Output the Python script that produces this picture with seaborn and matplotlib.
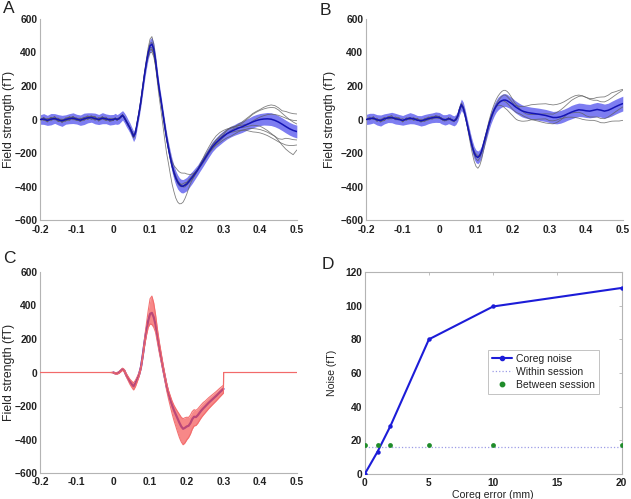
import numpy as np
import pandas as pd
import matplotlib
matplotlib.use("Agg")
import matplotlib.pyplot as plt
import seaborn as sns
from matplotlib.lines import Line2D

sns.set_theme(style="white")
plt.rcParams['font.family'] = ['Liberation Sans', 'DejaVu Sans']

# ---------------- time grid (s) ----------------
t_pre = [-0.20, -0.19, -0.18, -0.17, -0.16, -0.15, -0.14, -0.13, -0.12, -0.11,
         -0.10, -0.09, -0.08, -0.07, -0.06, -0.05, -0.04, -0.03, -0.02, -0.01]
t_mid = [round(0.005 * i, 3) for i in range(51)]
t_post = [0.26, 0.27, 0.28, 0.29, 0.30, 0.31, 0.32, 0.33, 0.34, 0.35, 0.36, 0.37, 0.38,
          0.39, 0.40, 0.41, 0.42, 0.43, 0.44, 0.45, 0.46, 0.47, 0.48, 0.49, 0.50]
time = t_pre + t_mid + t_post

# ---------------- Panel A ----------------
a_mean = ([0, 3, -5, 2, 6, -2, -8, 0, 5, 8, 2, -4, 4, 10, 12, 6, 0, 8, 4, -2] +
          [0, 5, 0, 5, 15, 25, 10, -10, -30, -50,
           -75, -100, -80, -20, 40, 110, 190, 270, 340, 400,
           440, 450, 420, 350, 260, 180, 110, 35, -40, -110,
           -170, -225, -275, -315, -348, -372, -388, -397, -398, -392,
           -385, -372, -358, -345, -330, -315, -300, -282, -265, -248, -230] +
          [-195, -162, -138, -118, -100, -84, -72, -62, -52, -44, -34, -24, -14, -6, 0,
           3, 4, 2, -5, -15, -28, -42, -55, -65, -72])
a_hw = ([28, 32, 30, 34, 29, 31, 33, 28, 30, 32, 29, 31, 34, 30, 28, 32, 30, 33, 29, 31] +
        [30, 32, 29, 31, 30, 28, 30, 32, 30, 30,
         30, 32, 30, 28, 28, 30, 32, 34, 36, 38,
         40, 40, 38, 35, 32, 30, 30, 30, 32, 34,
         36, 38, 40, 42, 42, 42, 40, 40, 40, 40,
         40, 40, 38, 36, 34, 32, 30, 30, 30, 30, 30] +
        [30, 30, 30, 32, 32, 32, 32, 32, 34, 34, 34, 34, 36, 36, 36, 36, 38, 38, 38, 38,
         38, 38, 38, 38, 38])
a_trial_offsets = {
    "a1": [8, -6, 12, -4, 10, -10, 6, -8, 12, 0, -6, 10, -4, 8, -12, 6, -2, 10, -8, 4] +
          [5, -5, 8, -3, 6, -4, 5, -6, 3, -5, -8, -10, -6, 4, 8, 10, 12, 15, 20, 30,
           40, 45, 30, 20, 10, 5, 0, -10, -15, -10, -5, 0, 5, 10, 15, 10, 5, 0, -5, -10,
           -5, 0, 5, 10, 10, 8, 5, 5, 8, 10, 12] +
          [10, 12, 15, 18, 20, 22, 20, 18, 22, 28, 35, 42, 50, 55, 60, 70, 78, 85, 88, 85,
           80, 90, 95, 100, 105],
    "a2": [-10, 6, -4, 12, -8, 4, 10, -6, -12, 6, 8, -4, -10, 4, 10, -8, 6, -4, -6, 8] +
          [-4, 6, -5, 4, -6, 5, -3, 6, -4, 3, 5, 8, 4, -6, -10, -15, -12, -8, -5, 0,
           -10, -20, -25, -30, -40, -50, -60, -70, -80, -90, -90, -100, -110, -115, -120, -120,
           -115, -105, -95, -80, -60, -40, -25, -15, -10, -5, 0, 5, 5, 5, 5] +
          [0, -5, -8, -10, -5, 0, 5, 10, 5, -5, -10, -15, -20, -30, -40, -55, -70, -85, -95,
           -110, -125, -135, -140, -145, -110],
    "a3": [4, -8, 6, 10, -4, -10, 8, 4, -6, 10, -2, -8, 6, 12, -4, -10, 4, 8, -6, 2] +
          [6, -4, 3, -5, 4, -6, 8, -3, 5, -4, 6, 4, -5, -8, -4, 6, 10, 8, 5, -5,
           -20, -30, -25, -15, -10, -5, 0, 5, 10, 5, 0, 10, 25, 40, 60, 70, 75, 78, 78, 72,
           60, 45, 30, 20, 10, 5, 0, -5, -5, 0, 0] +
          [5, 10, 15, 10, 5, 0, -5, -10, -15, -20, -30, -45, -60, -70, -80, -90, -100, -110,
           -115, -118, -115, -110, -100, -90, -80],
    "a4": [-6, 10, -8, 4, 12, -6, -4, 10, 6, -10, 4, 12, -6, -2, 8, 10, -8, -4, 6, -10] +
          [-5, 4, -6, 3, -4, 6, -5, 4, -3, 5, -4, -6, 5, 8, 6, -4, -8, -5, -10, -15,
           -25, -35, -30, -20, -15, -10, -5, 0, 5, 10, 15, 10, 5, 0, -5, -10, -8, -5, 0, 5,
           10, 12, 10, 8, 5, 5, 5, 10, 15, 20, 25] +
          [30, 35, 40, 40, 35, 28, 22, 18, 15, 20, 28, 36, 45, 50, 55, 60, 65, 70, 75, 72,
           65, 60, 55, 50, 45],
    "a5": [10, -4, -10, 6, -6, 8, -12, 4, 10, -6, -8, 6, 10, -10, 4, -6, 12, -4, -10, 6] +
          [-6, 5, -4, 6, -5, 3, -6, 5, -5, 4, 6, 10, 6, -4, -8, -10, -5, 0, 5, 10,
           15, 10, 5, 0, -5, -10, -10, -5, 0, -5, -10, -15, -10, -5, 0, 5, 10, 8, 5, 0,
           -5, -8, -10, -12, -10, -8, -5, -5, -8, -10, -10] +
          [-5, -10, -15, -20, -22, -25, -28, -25, -22, -20, -25, -30, -40, -50, -60, -70,
           -80, -90, -95, -100, -90, -70, -60, -55, -50],
    "a6": [-2, 8, 4, -10, 2, 10, -6, -10, 4, 10, -4, -6, 8, -8, 2, 12, -10, 4, 10, -6] +
          [3, -6, 5, -4, 5, -3, 4, -5, 6, -3, -5, -8, -5, 5, 10, 12, 10, 5, -10, -25,
           -40, -50, -45, -35, -20, -10, 0, 10, 15, 10, 5, 0, -5, -10, -5, 0, 5, 10, 15, 15,
           10, 5, 0, -5, -8, -5, 0, 5, 5, 0, -5] +
          [-10, -15, -10, 0, 10, 20, 25, 20, 15, 10, 5, 0, 5, 10, 15, 20, 25, 30, 35, 40,
           45, 50, 55, 60, 65],
}

# ---------------- Panel B ----------------
b_mean = ([0, 5, 8, -2, -6, 4, 10, 12, 5, 0, -5, 2, 8, 4, -4, -8, -2, 5, 10, 14] +
          [12, 5, 0, -2, 0, 5, 2, -4, -8, 0,
           20, 60, 88, 70, 30, -20, -70, -120, -165, -200,
           -220, -226, -215, -190, -150, -110, -70, -30, 5, 35,
           60, 80, 95, 105, 112, 116, 116, 112, 105, 98,
           90, 80, 72, 65, 58, 52, 48, 45, 42, 40, 38] +
          [35, 32, 28, 24, 18, 12, 12, 16, 24, 34, 44, 52, 58, 56, 52, 50, 55, 60, 56, 50,
           55, 65, 76, 86, 95])
b_hw = ([30, 32, 29, 31, 33, 30, 28, 31, 32, 30, 29, 31, 33, 30, 28, 31, 32, 30, 29, 31] +
        [30, 30, 29, 31, 30, 30, 31, 30, 30, 30,
         30, 32, 34, 34, 32, 32, 34, 36, 38, 38,
         38, 38, 36, 34, 34, 34, 34, 34, 34, 36,
         36, 36, 38, 38, 38, 38, 38, 38, 36, 36,
         36, 36, 36, 36, 36, 36, 36, 36, 36, 36, 36] +
        [36, 36, 36, 36, 36, 36, 38, 38, 38, 38, 40, 40, 40, 40, 40, 40, 42, 42, 42, 42,
         42, 44, 44, 44, 44])
b_trial_offsets = {
    "b1": [6, -8, 10, -4, 8, -10, 4, 12, -6, -2, 10, -8, 4, -6, 12, -4, -10, 6, 8, -6] +
          [-4, 6, -8, 5, -3, 8, -5, 4, -6, 5, 4, 6, 10, 8, 0, -10, -20, -30, -40, -50,
           -60, -65, -60, -50, -40, -30, -20, -10, -5, 0, 5, 10, 15, 20, 25, 30, 30, 25, 20, 15,
           10, 5, 10, 15, 20, 25, 30, 35, 40, 45, 50] +
          [55, 60, 65, 70, 72, 75, 78, 80, 82, 85, 88, 90, 88, 85, 80, 75, 70, 72, 78, 85,
           90, 95, 90, 88, 85],
    "b2": [-8, 4, -6, 10, -10, 6, -4, -8, 10, 4, -6, 8, -10, 4, 6, -8, 10, -4, -6, 10] +
          [5, -4, 6, -8, 4, -5, 8, -6, 4, -3, -5, -8, -10, -5, 0, 5, 10, 12, 10, 8,
           5, 0, -5, -10, -5, 0, 5, 8, 10, 5, 0, -5, -10, -20, -30, -40, -50, -55, -60, -65,
           -68, -70, -72, -70, -66, -62, -58, -54, -50, -45, -40] +
          [-35, -30, -25, -20, -25, -20, -15, -10, -15, -20, -30, -40, -50, -55, -55, -55,
           -60, -70, -75, -70, -70, -75, -85, -95, -100],
    "b3": [10, -6, 4, -10, 6, 8, -8, -4, 6, 10, -10, 4, -6, 8, -4, 10, -6, -8, 4, 6] +
          [-6, 8, -4, 6, -8, 4, -5, 6, -4, 8, 6, 10, 5, -5, -10, -8, -5, 0, 5, 10,
           15, 10, 5, 0, 5, 10, 15, 20, 25, 30, 35, 40, 45, 50, 55, 58, 58, 55, 50, 40,
           30, 20, 15, 10, 5, 0, -5, -10, -10, -10, -8] +
          [-5, 0, 5, 10, 15, 20, 30, 40, 50, 60, 70, 75, 80, 85, 80, 70, 60, 55, 50, 55,
           60, 65, 70, 75, 80],
    "b4": [-4, 10, -8, 6, -6, -10, 8, 4, -6, 10, -8, 6, 4, -10, 8, -6, 4, 10, -8, -4] +
          [8, -5, 4, -6, 5, -8, 6, -4, 5, -6, -8, -10, -6, 5, 10, 8, 5, 0, -5, -10,
           -15, -20, -15, -10, -5, 0, 0, -5, -10, -10, -5, 0, 5, 5, 0, -5, -10, -15, -20, -25,
           -30, -30, -30, -28, -25, -25, -28, -30, -32, -35, -38] +
          [-40, -42, -44, -45, -42, -38, -30, -20, -10, 0, -5, -10, -15, -20, -30, -35,
           -40, -45, -50, -45, -40, -35, -30, -25, -20],
}

# ---------------- Panel C ----------------
# same grid, plus one sample just after 0.30 s where the signal steps back to zero
c_time = time[:76] + [0.3005] + time[76:]
c_mean = ([0] * 20 +
          [0, -5, -5, 0, 10, 20, 10, -15, -35, -55,
           -70, -82, -65, -40, -12, 30, 100, 180, 250, 310,
           350, 356, 330, 285, 215, 150, 90, 30, -25, -80,
           -125, -160, -195, -225, -250, -275, -300, -322, -336, -330,
           -322, -318, -302, -278, -264, -266, -255, -240, -226, -214, -203] +
          [-180, -160, -140, -118, -98] + [0] * 21)
c_hi = ([0] * 20 +
        [3, 4, 5, 5, 6, 6, 8, 10, 12, 15,
         18, 20, 18, 15, 12, 12, 15, 25, 40, 60,
         90, 100, 85, 60, 45, 35, 30, 25, 20, 20,
         20, 22, 25, 30, 35, 42, 50, 55, 60, 60,
         55, 50, 48, 45, 42, 40, 38, 36, 35, 35, 32] +
        [30, 28, 26, 24, 22] + [0] * 21)
c_lo = ([0] * 20 +
        [3, 4, 5, 5, 6, 6, 8, 10, 12, 15,
         18, 22, 20, 15, 12, 12, 15, 20, 30, 40,
         60, 70, 60, 45, 35, 30, 25, 20, 20, 25,
         30, 40, 50, 60, 70, 80, 88, 92, 95, 90,
         80, 70, 65, 60, 55, 50, 48, 45, 42, 40, 38] +
        [35, 32, 30, 28, 25] + [0] * 21)

# ---------------- Panel D ----------------
coreg_err = [0, 1, 2, 5, 10, 20]
coreg_noise = [0, 13.3, 28.5, 80, 99.5, 110.5]
within_session = [16, 16]
within_x = [0, 20]
between_session = [17.2, 17.2, 17.2, 17.2, 17.2, 17.2]

x_ticks = [-0.2, -0.1, 0, 0.1, 0.2, 0.3, 0.4, 0.5]
x_ticklabels = ["-0.2", "-0.1", "0", "0.1", "0.2", "0.3", "0.4", "0.5"]
y_ticks = [-600, -400, -200, 0, 200, 400, 600]
d_xticks = [0, 5, 10, 15, 20]
d_yticks = [0, 20, 40, 60, 80, 100, 120]

# ---------------- drawing ----------------
W, H = 631, 499
fig = plt.figure(figsize=(W / 100, H / 100), dpi=100)
fig.patch.set_facecolor("white")

TXT = "#222222"
SPINE = "#b4b4b4"
FS = 7.4


def style_axes(ax, box=False):
    ax.set_facecolor("white")
    for s in ["left", "bottom", "top", "right"]:
        ax.spines[s].set_visible(box or s in ("left", "bottom"))
        ax.spines[s].set_color(SPINE)
        ax.spines[s].set_linewidth(0.8)
    ax.tick_params(direction="in", length=2.5, width=0.6, color=SPINE,
                   labelsize=FS, labelcolor=TXT, top=box, right=box)
    ax.tick_params(axis="x", pad=3.2)
    ax.tick_params(axis="y", pad=2)
    for lab in ax.get_xticklabels() + ax.get_yticklabels():
        lab.set_fontweight("bold")
    ax.grid(False)


def wave_panel(rect, t, mean, hw_lo, hw_hi, offsets, band_color, band_alpha,
               line_color, edge_color=None, over=False):
    ax = fig.add_axes(rect)
    mean = np.asarray(mean, float)
    lo = mean - np.asarray(hw_lo, float)
    hi = mean + np.asarray(hw_hi, float)
    dm = pd.DataFrame({"time": t, "value": mean})
    if not over:
        rows = []
        for k, off in offsets.items():
            for tt, m, o in zip(t, mean, off):
                rows.append((k, tt, m + o))
        df = pd.DataFrame(rows, columns=["trial", "time", "value"])
        ax.fill_between(t, lo, hi, color=band_color, alpha=band_alpha, lw=0, zorder=1)
        sns.lineplot(data=df, x="time", y="value", units="trial", estimator=None,
                     color="#606060", lw=0.6, alpha=0.8, ax=ax, zorder=2, legend=False)
        sns.lineplot(data=dm, x="time", y="value", color=line_color, lw=1.1,
                     ax=ax, zorder=3)
    else:
        active = dm[(dm["time"] >= 0) & (dm["time"] <= 0.3)]
        sns.lineplot(data=active, x="time", y="value", color=line_color, lw=1.6,
                     ax=ax, zorder=1)
        ax.fill_between(t, lo, hi, color=band_color, alpha=band_alpha, lw=0, zorder=2)
        ax.plot(t, lo, color=edge_color, lw=0.8, zorder=3, alpha=0.95)
        ax.plot(t, hi, color=edge_color, lw=0.8, zorder=3, alpha=0.95)
    ax.set_xlim(-0.2, 0.5)
    ax.set_ylim(-600, 600)
    ax.set_xticks(x_ticks)
    ax.set_xticklabels(x_ticklabels)
    ax.set_yticks(y_ticks)
    ax.set_xlabel("")
    ax.set_ylabel("Field strength (fT)", fontsize=8.8, color=TXT)
    style_axes(ax)
    return ax


axA = wave_panel([0.0634, 0.559, 0.407, 0.403], time, a_mean, a_hw, a_hw, a_trial_offsets,
                 "#5858ee", 0.78, "#1414b4")
axA.yaxis.set_label_coords(-0.098, 0.5)
axB = wave_panel([0.580, 0.559, 0.407, 0.403], time, b_mean, b_hw, b_hw, b_trial_offsets,
                 "#5858ee", 0.78, "#1414b4")
axB.yaxis.set_label_coords(-0.118, 0.5)
axC = wave_panel([0.0634, 0.052, 0.407, 0.403], c_time, c_mean, c_lo, c_hi, None,
                 "#f45a5a", 0.72, "#2a1ac8", edge_color="#f26a6a", over=True)
axC.yaxis.set_label_coords(-0.098, 0.5)

# Panel D
axD = fig.add_axes([0.578, 0.050, 0.407, 0.405])
dd = pd.DataFrame({"err": coreg_err, "noise": coreg_noise, "between": between_session})
dw = pd.DataFrame({"err": within_x, "within": within_session})
sns.lineplot(data=dw, x="err", y="within", color="#9c9ce6", lw=0.9, linestyle=":",
             ax=axD, zorder=1)
sns.lineplot(data=dd, x="err", y="noise", color="#1c1cd8", lw=1.5, marker="o",
             markersize=3.2, markeredgewidth=0, ax=axD, zorder=3)
sns.scatterplot(data=dd, x="err", y="between", color="#1f8c2a", s=12, linewidth=0,
                ax=axD, zorder=4)
axD.set_xlim(0, 20)
axD.set_ylim(0, 120)
axD.set_xticks(d_xticks)
axD.set_yticks(d_yticks)
axD.set_xlabel("Coreg error (mm)", fontsize=7.6, color=TXT)
axD.set_ylabel("Noise (fT)", fontsize=7.6, color=TXT)
axD.yaxis.set_label_coords(-0.108, 0.5)
axD.xaxis.set_label_coords(0.5, -0.08)
style_axes(axD, box=True)
handles = [
    Line2D([], [], color="#1c1cd8", lw=1.5, marker="o", markersize=3),
    Line2D([], [], color="#9c9ce6", lw=0.9, linestyle=":"),
    Line2D([], [], color="#1f8c2a", lw=0, marker="o", markersize=3.2),
]
leg = axD.legend(handles, ["Coreg noise", "Within session", "Between session"],
                 loc="center", bbox_to_anchor=(0.494, 0.381, 0.405, 0.248),
                 prop={"size": 7.5}, frameon=True, fancybox=False, borderpad=0.4,
                 handlelength=1.9, handletextpad=0.4, labelspacing=0.3,
                 borderaxespad=0)
leg.get_frame().set_edgecolor("#b4b4b4")
leg.get_frame().set_linewidth(0.7)
for txt in leg.get_texts():
    txt.set_color(TXT)

# panel letters
for letter, x, y in [("A", 3, 1), ("B", 320, 3), ("C", 3, 251), ("D", 322, 257)]:
    fig.text(x / W, 1 - y / H, letter, fontsize=12.5, color=TXT, ha="left", va="top")

fig.savefig("out.png", dpi=100, facecolor="white")
